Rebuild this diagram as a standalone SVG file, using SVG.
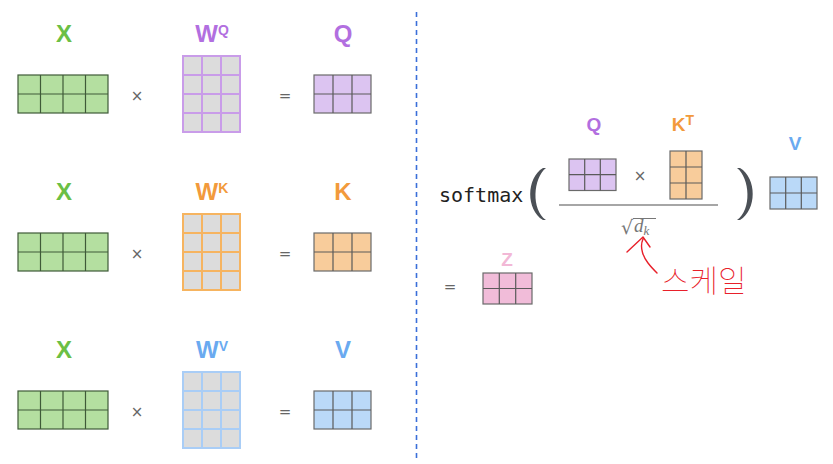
<svg xmlns="http://www.w3.org/2000/svg" width="833" height="464" viewBox="0 0 833 464">
<style>
.lbl{font-family:"Liberation Sans",Arial,sans-serif;font-weight:bold;font-size:24px;text-anchor:middle}
.lbl2{font-family:"Liberation Sans",Arial,sans-serif;font-weight:bold;font-size:19px;text-anchor:middle}
.sup{font-size:14px}
.op{font-family:"DejaVu Sans",sans-serif;font-size:15px;fill:#666;text-anchor:middle}
.g{fill:#b4dfa0;stroke:#3f5a38;stroke-width:1.2}
.gl{stroke:#3f5a38;stroke-width:1.2}
.res{stroke:#5a5a5a;stroke-width:1.2}
.wq{fill:#dcdcdc;stroke:#c99ce9;stroke-width:2}
.wk{fill:#dcdcdc;stroke:#f6b460;stroke-width:2}
.wv{fill:#dcdcdc;stroke:#a9cdf6;stroke-width:2}
.q{fill:#dcc4f1;stroke:#6a6a6a;stroke-width:1.2}
.k{fill:#f8cc9b;stroke:#6a6a6a;stroke-width:1.2}
.v{fill:#bad9f8;stroke:#6a6a6a;stroke-width:1.2}
.z{fill:#f1bcd9;stroke:#6a6a6a;stroke-width:1.2}
.cg{fill:#6bbf45}.cp{fill:#b26fe0}.co{fill:#f29a3c}.cb{fill:#6aaaf0}.cz{fill:#f2b8d6}
</style>

<line x1="416.5" y1="12" x2="416.5" y2="462" stroke="#3b6fd9" stroke-width="1.6" stroke-dasharray="5 4"/>

<!-- Row 1 -->
<g id="x1">
<text class="lbl cg" x="64" y="42">X</text>
<rect class="g" x="18" y="75" width="90" height="38"/>
<path class="gl" d="M40.5,75V113M63,75V113M85.5,75V113M18,94H108"/>
</g>
<text class="op" x="137" y="101">×</text>
<g id="wq">
<text class="lbl cp" x="212" y="42">W<tspan class="sup" dy="-7">Q</tspan></text>
<rect class="wq" x="183" y="56" width="57" height="76"/>
<path stroke="#c99ce9" stroke-width="2" d="M202,56V132M221,56V132M183,75H240M183,94H240M183,113H240"/>
</g>
<text class="op" x="285" y="101">=</text>
<g id="q1">
<text class="lbl cp" x="343" y="42">Q</text>
<rect class="q" x="314" y="75" width="57" height="38"/>
<path class="res" d="M333,75V113M352,75V113M314,94H371"/>
</g>

<!-- Row 2 -->
<g id="x2">
<text class="lbl cg" x="64" y="200">X</text>
<rect class="g" x="18" y="233" width="90" height="38"/>
<path class="gl" d="M40.5,233V271M63,233V271M85.5,233V271M18,252H108"/>
</g>
<text class="op" x="137" y="259">×</text>
<g id="wk">
<text class="lbl co" x="212" y="200">W<tspan class="sup" dy="-7">K</tspan></text>
<rect class="wk" x="183" y="214" width="57" height="76"/>
<path stroke="#f6b460" stroke-width="2" d="M202,214V290M221,214V290M183,233H240M183,252H240M183,271H240"/>
</g>
<text class="op" x="285" y="259">=</text>
<g id="k1">
<text class="lbl co" x="343" y="200">K</text>
<rect class="k" x="314" y="233" width="57" height="38"/>
<path class="res" d="M333,233V271M352,233V271M314,252H371"/>
</g>

<!-- Row 3 -->
<g id="x3">
<text class="lbl cg" x="64" y="358">X</text>
<rect class="g" x="18" y="391" width="90" height="38"/>
<path class="gl" d="M40.5,391V429M63,391V429M85.5,391V429M18,410H108"/>
</g>
<text class="op" x="137" y="417">×</text>
<g id="wv">
<text class="lbl cb" x="212" y="358">W<tspan class="sup" dy="-7">V</tspan></text>
<rect class="wv" x="183" y="372" width="57" height="76"/>
<path stroke="#a9cdf6" stroke-width="2" d="M202,372V448M221,372V448M183,391H240M183,410H240M183,429H240"/>
</g>
<text class="op" x="285" y="417">=</text>
<g id="v1">
<text class="lbl cb" x="343" y="358">V</text>
<rect class="v" x="314" y="391" width="57" height="38"/>
<path class="res" d="M333,391V429M352,391V429M314,410H371"/>
</g>

<!-- Right side formula -->
<g id="softmax">
<text x="439" y="202" font-family="DejaVu Sans Mono,monospace" font-size="20" fill="#222">softmax</text>
<path fill="#4b5056" d="M546,168 C533,178 531,210 546,220 L543,220 C526,210 526,178 543,168 Z"/>
<path fill="#4b5056" d="M737,168 C750,178 752,210 737,220 L740,220 C757,210 757,178 740,168 Z"/>
</g>
<g id="q2">
<text class="lbl2 cp" x="594" y="131">Q</text>
<rect class="q" x="569" y="159" width="47" height="31.5"/>
<path class="res" d="M584.7,159V190.5M600.3,159V190.5M569,174.7H616"/>
</g>
<text class="op" x="640" y="181" font-size="13">×</text>
<g id="kt">
<text class="lbl2 co" x="683" y="131">K<tspan class="sup" dy="-6" font-size="12">T</tspan></text>
<rect class="k" x="670" y="151" width="32" height="48"/>
<path class="res" d="M686,151V199M670,167H702M670,183H702"/>
</g>
<line x1="559" y1="205" x2="718" y2="205" stroke="#888" stroke-width="1.5"/>
<g id="sqrtdk">
<text x="621" y="234" font-family="DejaVu Serif,serif" font-size="19" fill="#777">√</text>
<line x1="633" y1="218.5" x2="656" y2="218.5" stroke="#777" stroke-width="1"/>
<text x="634" y="232" font-family="Liberation Serif,serif" font-style="italic" font-size="19" fill="#777">d<tspan font-size="13" dy="3">k</tspan></text>
</g>
<g id="v2">
<text class="lbl2 cb" x="795" y="150">V</text>
<rect class="v" x="770" y="177" width="47" height="32"/>
<path class="res" d="M785.7,177V209M801.3,177V209M770,193H817"/>
</g>
<text class="op" x="450" y="292" font-size="13">=</text>
<g id="z">
<text class="lbl2 cz" x="507" y="266">Z</text>
<rect class="z" x="483" y="273" width="49" height="31"/>
<path class="res" d="M499.3,273V304M515.7,273V304M483,288.5H532"/>
</g>

<!-- red handwriting annotation -->
<g id="annotation">
<path fill="none" stroke="#e8202a" stroke-width="1.4" stroke-linecap="round" stroke-linejoin="round" d="M627,252 L643,237 L650,247 M643,239 C639,248 644,258 648,263 C651,267 654,270 657,273"/>
<text x="661" y="292" font-family="Noto Sans CJK KR,sans-serif" font-weight="100" font-size="31" fill="#e8202a">스케일</text>
</g>
</svg>
